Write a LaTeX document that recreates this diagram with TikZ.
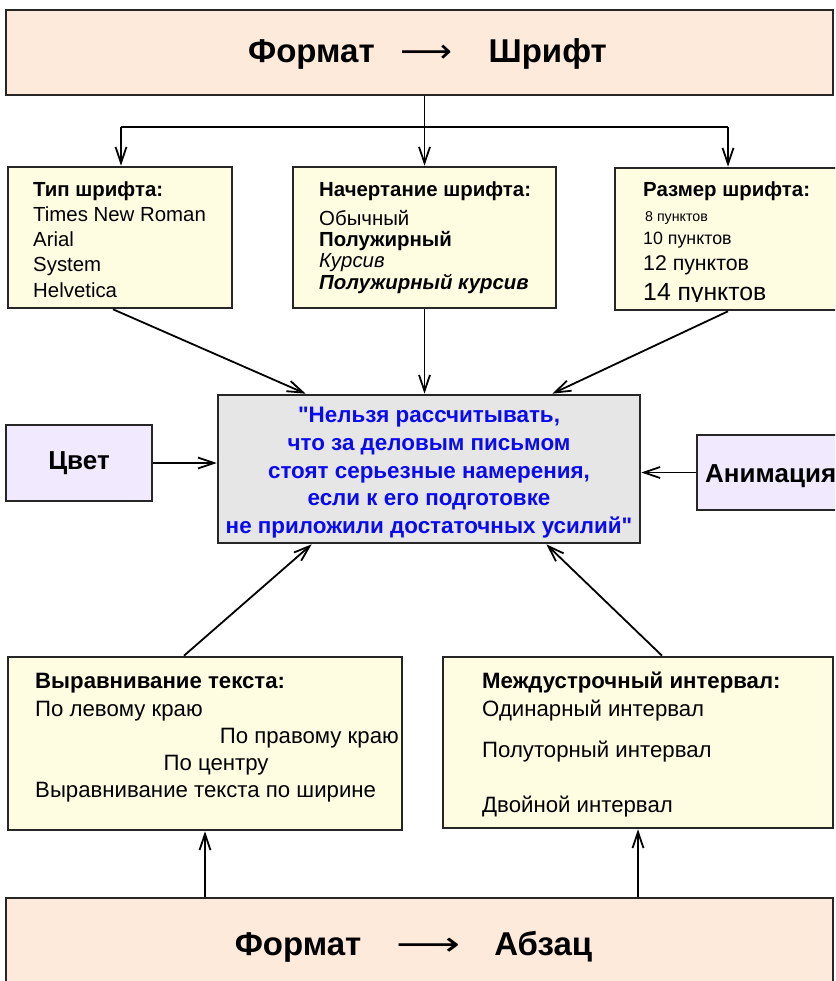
\documentclass[tikz,border=0pt]{standalone}
\usepackage{fontspec}
\setmainfont{Liberation Sans}[Ligatures=TeXOff]
\newfontfamily\arrowfont{DejaVu Sans}
\usetikzlibrary{arrows.meta}

\definecolor{peach}{HTML}{FDEADB}
\definecolor{cream}{HTML}{FFFDE1}
\definecolor{lilac}{HTML}{F1E9FD}
\definecolor{quotegray}{HTML}{E6E6E6}
\definecolor{quoteblue}{HTML}{0A0AF0}

\newcommand{\longto}[1]{\resizebox{#1}{\height}{\arrowfont\mdseries ⟶}}

\tikzset{
  box/.style={draw=black!85, line width=2.6pt, inner sep=0pt},
  headbox/.style={box, fill=peach},
  listbox/.style={box, fill=cream},
  sidebox/.style={box, fill=lilac},
  txt/.style={inner sep=0pt, anchor=base west, font=\fontsize{20.4}{24}\selectfont},
  head/.style={txt, font=\bfseries\fontsize{20.4}{24}\selectfont},
  bigtxt/.style={txt, font=\fontsize{22.2}{26}\selectfont},
  bighead/.style={txt, font=\bfseries\fontsize{22.2}{26}\selectfont},
  title/.style={inner sep=0pt, anchor=base, font=\bfseries\fontsize{33}{38}\selectfont},
  quoteline/.style={inner sep=0pt, anchor=base, text=quoteblue, font=\bfseries\fontsize{22.4}{27}\selectfont},
  link/.style={line width=1.8pt},
  arr/.style={link, -{Straight Barb[length=16pt,width=11pt,line width=1.8pt]}},
}

\begin{document}
\begin{tikzpicture}[x=1pt,y=-1pt]
  \clip (0,0) rectangle (835,981);

  % boxes
  \node[headbox, minimum width=827pt, minimum height=85pt] (top) at (419.5,52.5) {};
  \node[listbox, minimum width=224pt, minimum height=141pt] (type) at (120,237.5) {};
  \node[listbox, minimum width=263pt, minimum height=141pt] (style) at (424.5,237.5) {};
  \node[listbox, minimum width=235pt, minimum height=142pt] (size) at (732.5,239) {};
  \node[box, fill=quotegray, minimum width=422pt, minimum height=148pt] (quote) at (429,469) {};
  \node[sidebox, minimum width=146pt, minimum height=76pt,
        font=\bfseries\fontsize{26}{30}\selectfont] (color) at (79,463) {Цвет};
  \node[sidebox, minimum width=153pt, minimum height=75pt] (anim) at (773.5,472.5) {};
  \node[listbox, minimum width=394pt, minimum height=173pt] (align) at (205,743.5) {};
  \node[listbox, minimum width=390pt, minimum height=171pt] (spacing) at (638,742.5) {};
  \node[headbox, minimum width=827pt, minimum height=102pt] (bottom) at (419.5,949) {};

  % titles
  \node[title] (topTitle) at (427.5,63) {Формат\hspace{26pt}\longto{52pt}\hspace{36pt}Шрифт};
  \node[title] (bottomTitle) at (413.5,955) {Формат\hspace{35pt}\longto{64pt}\hspace{34pt}Абзац};

  % font type
  \node[head] (typeHead) at (33,197) {Тип шрифта:};
  \node[txt] (typeTimes) at (33,222) {Times New Roman};
  \node[txt] (typeArial) at (33,247) {Arial};
  \node[txt] (typeSystem) at (33,272) {System};
  \node[txt] (typeHelv) at (33,297) {Helvetica};

  % font style
  \node[head] (styleHead) at (319,197) {Начертание шрифта:};
  \node[txt] (styleRegular) at (319,226) {Обычный};
  \node[txt, font=\bfseries\fontsize{20.4}{24}\selectfont] (styleBold) at (319,247) {Полужирный};
  \node[txt, font=\itshape\fontsize{20.4}{24}\selectfont] (styleItalic) at (319,268) {Курсив};
  \node[txt, font=\bfseries\itshape\fontsize{20.4}{24}\selectfont] (styleBoldItalic) at (319,290) {Полужирный курсив};

  % font size
  \node[head] (sizeHead) at (643,197) {Размер шрифта:};
  \node[txt, font=\fontsize{14.2}{16}\selectfont] (size8) at (645,222) {8 пунктов};
  \node[txt, font=\fontsize{17.8}{21}\selectfont] (size10) at (643,245) {10 пунктов};
  \node[txt, font=\fontsize{21.3}{25}\selectfont] (size12) at (643,271) {12 пунктов};
  \begin{scope}
    \clip (600,276) rectangle (835,301);
    \node[txt, font=\fontsize{24.8}{29}\selectfont] (size14) at (643,300) {14 пунктов};
  \end{scope}

  % quote
  \node[quoteline] (quoteA) at (429,422) {"Нельзя рассчитывать,};
  \node[quoteline] (quoteB) at (429,450) {что за деловым письмом};
  \node[quoteline] (quoteC) at (429,478) {стоят серьезные намерения,};
  \node[quoteline] (quoteD) at (429,505) {если к его подготовке};
  \node[quoteline] (quoteE) at (429,533) {не приложили достаточных усилий"};

  \node[txt, font=\bfseries\fontsize{26}{30}\selectfont] (animText) at (705,482) {Анимация};

  % alignment
  \node[bighead] (alignHead) at (35,688) {Выравнивание текста:};
  \node[bigtxt] (alignLeft) at (35,716) {По левому краю};
  \node[bigtxt, anchor=base east] (alignRight) at (399,743) {По правому краю};
  \node[bigtxt, anchor=base] (alignCenter) at (216,770) {По центру};
  \node[bigtxt] (alignJustify) at (35,797) {Выравнивание текста по ширине};

  % line spacing
  \node[bighead] (spacingHead) at (482,688) {Междустрочный интервал:};
  \node[bigtxt] (spacingOne) at (482,716) {Одинарный интервал};
  \node[bigtxt] (spacingOneHalf) at (482,757) {Полуторный интервал};
  \node[bigtxt] (spacingTwo) at (482,812) {Двойной интервал};

  % connectors
  \coordinate (forkL) at (121,127);
  \coordinate (forkR) at (728,127);
  \draw[arr] (style.north |- top.south) -- (style.north);
  \draw[link] (forkL) -- (forkR);
  \draw[arr] (forkL) -- (forkL |- type.north);
  \draw[arr] (forkR) -- (forkR |- size.north);

  \draw[arr] ([xshift=-7pt]type.south) -- ([xshift=89pt]quote.north west);
  \draw[arr] (style.south) -- (style.south |- quote.north);
  \draw[arr] ([xshift=-4.5pt]size.south) -- ([xshift=-89pt]quote.north east);
  \draw[arr] (color.east) -- (color.east -| quote.west);
  \draw[arr] (anim.west) -- (anim.west -| quote.east);
  \draw[arr] ([xshift=-21pt]align.north) -- ([xshift=95pt]quote.south west);
  \draw[arr] ([xshift=24pt]spacing.north) -- ([xshift=-95pt]quote.south east);

  \draw[arr] (align.south |- bottom.north) -- (align.south);
  \draw[arr] (spacing.south |- bottom.north) -- (spacing.south);
\end{tikzpicture}
\end{document}
